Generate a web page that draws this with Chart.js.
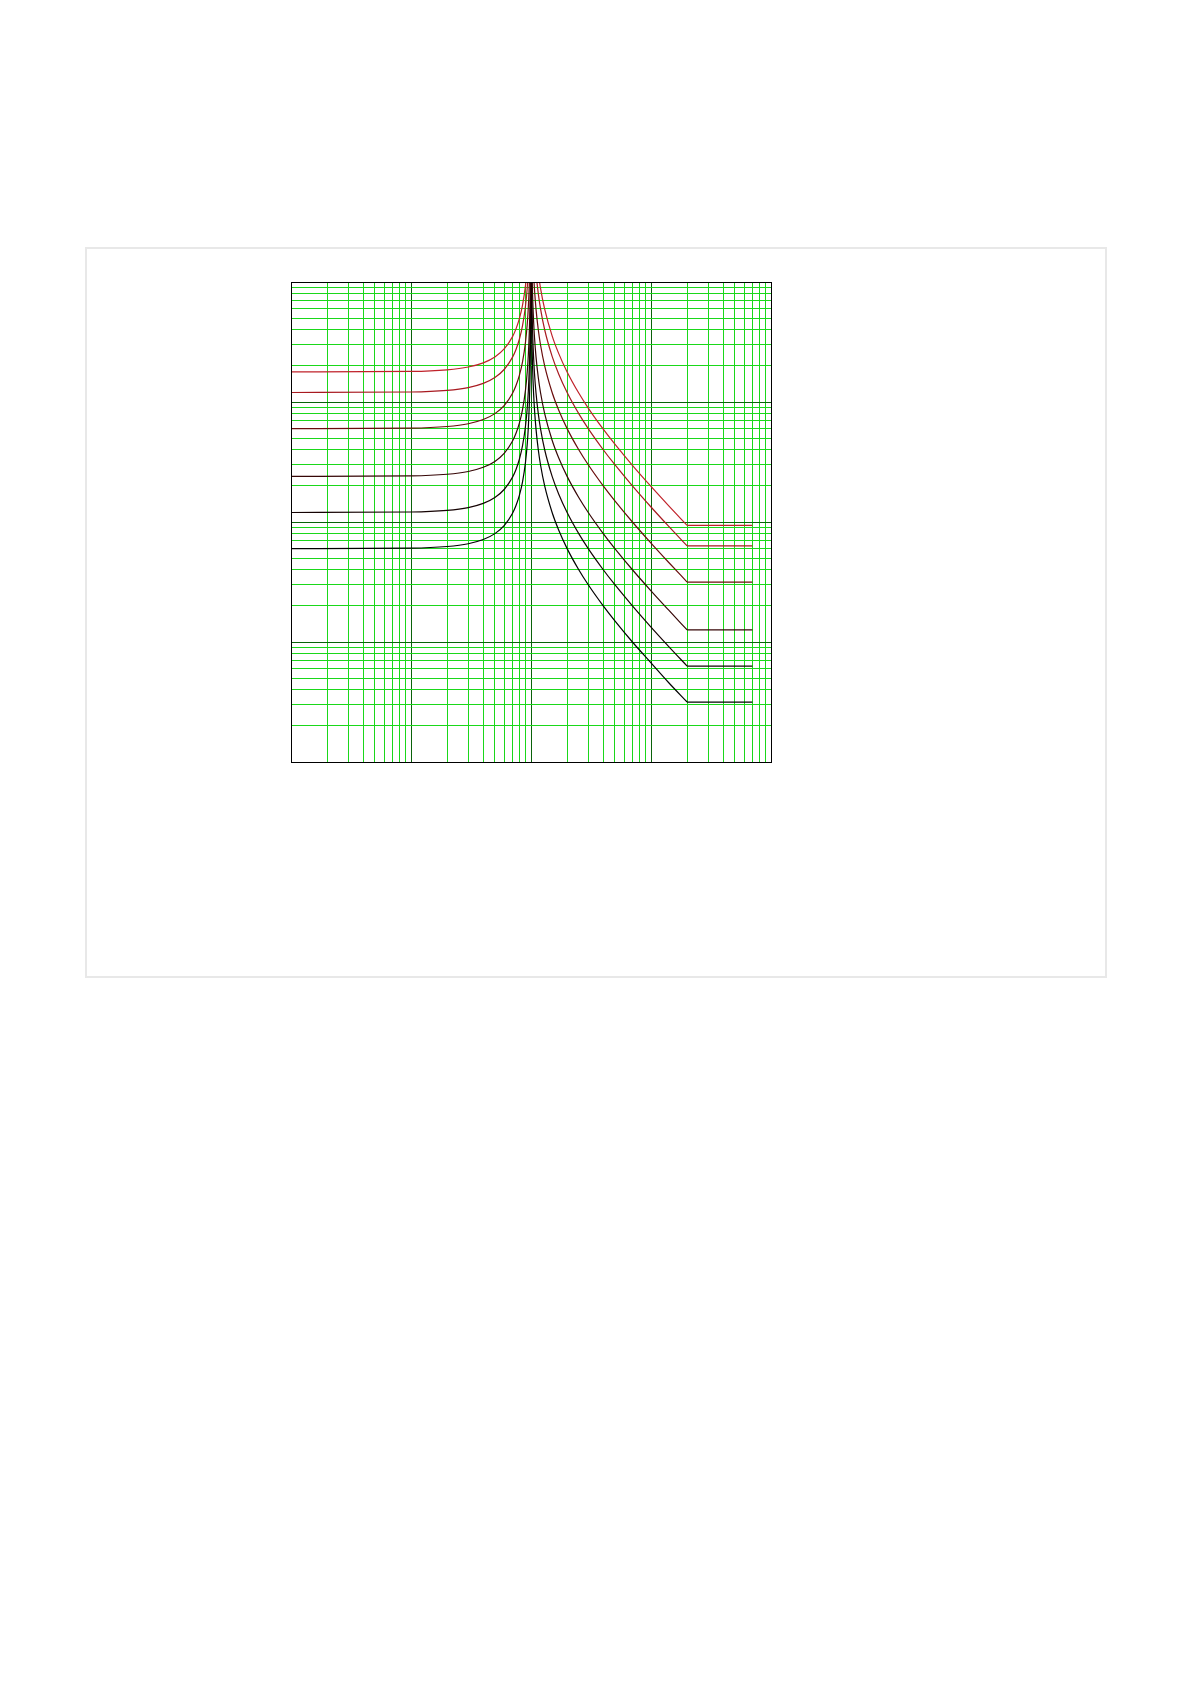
<!DOCTYPE html>
<html lang="en">
<head>
<meta charset="utf-8">
<title>Resonance curves</title>
<script src="https://cdn.jsdelivr.net/npm/chart.js@4.4.1/dist/chart.umd.min.js"></script>
<style>
  html, body { margin: 0; padding: 0; background: #fff; }
  .card {
    position: absolute;
    left: 85px; top: 247px;
    width: 1022px; height: 731px;
    box-sizing: border-box;
    border: 2px solid #e8e8e8;
    background: #fff;
  }
  .card__canvas { position: absolute; left: 0; top: 0; right: 0; bottom: 0; }
</style>
</head>
<body>
<div class="card">
  <div class="card__canvas"><canvas id="curveChart"></canvas></div>
</div>

<script>
/* ===== Data ===== */
// grid ticks, 1..9 per decade
const gridTicks = [
  0.01, 0.02, 0.03, 0.04, 0.05, 0.06, 0.07, 0.08, 0.09,
  0.1, 0.2, 0.3, 0.4, 0.5, 0.6, 0.7, 0.8, 0.9,
  1, 2, 3, 4, 5, 6, 7, 8, 9,
  10, 20, 30, 40, 50, 60, 70, 80, 90, 100
];

// below resonance
const leftX = [0.01, 0.1, 0.2, 0.3, 0.4, 0.5, 0.6, 0.7, 0.75, 0.8, 0.85, 0.9, 0.93, 0.95, 0.97, 0.98, 0.99, 0.995, 0.998];
const leftY1 = [17.8, 17.98, 18.54, 19.56, 21.19, 23.73, 27.81, 34.9, 40.69, 49.44, 64.14, 93.68, 131.8, 182.6, 301.2, 449.5, 894.5, 1784, 4454];
const leftY2 = [12, 12.12, 12.5, 13.19, 14.29, 16, 18.75, 23.53, 27.43, 33.33, 43.24, 63.16, 88.82, 123.1, 203, 303, 603, 1203, 3003];
const leftY3 = [6, 6.06, 6.25, 6.59, 7.14, 8, 9.375, 11.76, 13.71, 16.67, 21.62, 31.58, 44.41, 61.54, 101.5, 151.5, 301.5, 601.5, 1501];
const leftY4 = [2.4, 2.424, 2.5, 2.637, 2.857, 3.2, 3.75, 4.706, 5.486, 6.667, 8.649, 12.63, 17.76, 24.62, 40.61, 60.61, 120.6, 240.6, 600.6];
const leftY5 = [1.2, 1.212, 1.25, 1.319, 1.429, 1.6, 1.875, 2.353, 2.743, 3.333, 4.324, 6.316, 8.882, 12.31, 20.3, 30.3, 60.3, 120.3, 300.3];
const leftY6 = [0.6, 0.606, 0.625, 0.659, 0.714, 0.8, 0.9375, 1.176, 1.371, 1.667, 2.162, 3.158, 4.441, 6.154, 10.15, 15.15, 30.15, 60.15, 150.2];

// above resonance
const rightX = [1.002, 1.005, 1.01, 1.02, 1.03, 1.05, 1.07, 1.1, 1.15, 1.2, 1.3, 1.5, 1.7, 2, 2.5, 3, 4, 5, 7, 10, 14, 20];
const rightY1 = [8900, 3560, 1780, 890, 593.3, 356, 254.3, 178, 118.7, 89, 59.33, 35.6, 25.43, 17.8, 11.87, 8.9, 5.933, 4.45, 2.967, 1.978, 1.369, 0.937];
const rightY2 = [6000, 2400, 1200, 600, 400, 240, 171.4, 120, 80, 60, 40, 24, 17.14, 12, 8, 6, 4, 3, 2, 1.333, 0.923, 0.632];
const rightY3 = [3000, 1200, 600, 300, 200, 120, 85.7, 60, 40, 30, 20, 12, 8.57, 6, 4, 3, 2, 1.5, 1, 0.667, 0.462, 0.316];
const rightY4 = [1200, 480, 240, 120, 80, 48, 34.3, 24, 16, 12, 8, 4.8, 3.43, 2.4, 1.6, 1.2, 0.8, 0.6, 0.4, 0.267, 0.185, 0.126];
const rightY5 = [600, 240, 120, 60, 40, 24, 17.14, 12, 8, 6, 4, 2.4, 1.714, 1.2, 0.8, 0.6, 0.4, 0.3, 0.2, 0.133, 0.092, 0.063];
const rightY6 = [300, 120, 60, 30, 20, 12, 8.57, 6, 4, 3, 2, 1.2, 0.857, 0.6, 0.4, 0.3, 0.2, 0.15, 0.1, 0.067, 0.046, 0.0316];

// flat tails
const tailX = [20, 70];
const tailY = [0.937, 0.632, 0.316, 0.126, 0.063, 0.0316];

const leftYs = [leftY1, leftY2, leftY3, leftY4, leftY5, leftY6];
const rightYs = [rightY1, rightY2, rightY3, rightY4, rightY5, rightY6];

/* ===== Styles ===== */
const curveColors = ['#c0222a', '#a81a20', '#6a0c0c', '#360606', '#140202', '#000000'];
const minorGrid = '#1ad81a';
const majorGrid = '#0a620a';

const isDecade = (v) => Math.abs(Math.log10(v) - Math.round(Math.log10(v))) < 1e-9;

/* ===== Frame plugin ===== */
const framePlugin = {
  id: 'frame',
  afterDatasetsDraw(chart) {
    const { ctx, chartArea: a } = chart;
    const l = Math.round(a.left) + 0.5;
    const t = Math.round(a.top) + 0.5;
    const r = Math.round(a.right) + 0.5;
    const b = Math.round(a.bottom) + 0.5;
    ctx.save();
    ctx.strokeStyle = '#000';
    ctx.lineWidth = 1;
    ctx.strokeRect(l, t, r - l, b - t);
    ctx.restore();
  }
};

function logAxis() {
  return {
    type: 'logarithmic',
    min: 0.01,
    max: 100,
    afterBuildTicks: (scale) => {
      scale.ticks = gridTicks.map(v => ({ value: v, major: isDecade(v) }));
    },
    ticks: { display: false, autoSkip: false },
    border: { display: false },
    grid: {
      drawTicks: false,
      lineWidth: 1,
      color: (c) => (c.tick && isDecade(c.tick.value)) ? majorGrid : minorGrid
    }
  };
}

/* ===== Chart ===== */
function initCurveChart() {
  const el = document.getElementById('curveChart');
  if (!el) return;

  const datasets = [];
  leftYs.forEach((ys, i) => {
    const base = {
      borderColor: curveColors[i],
      borderWidth: 1.2,
      pointRadius: 0,
      showLine: true,
      fill: false,
      cubicInterpolationMode: 'monotone'
    };
    datasets.push({ ...base, data: leftX.map((x, j) => ({ x, y: ys[j] })) });
    datasets.push({ ...base, data: rightX.map((x, j) => ({ x, y: rightYs[i][j] })) });
    datasets.push({ ...base, cubicInterpolationMode: 'default', data: tailX.map(x => ({ x, y: tailY[i] })) });
  });

  new Chart(el, {
    type: 'scatter',
    data: { datasets },
    options: {
      responsive: true,
      maintainAspectRatio: false,
      animation: false,
      layout: { padding: { left: 204, top: 33, right: 334, bottom: 214 } },
      scales: { x: logAxis(), y: logAxis() },
      plugins: {
        legend: { display: false },
        tooltip: { enabled: false }
      }
    },
    plugins: [framePlugin]
  });
}

/* ===== Init ===== */
document.addEventListener('DOMContentLoaded', () => {
  initCurveChart();
});
</script>
</body>
</html>
